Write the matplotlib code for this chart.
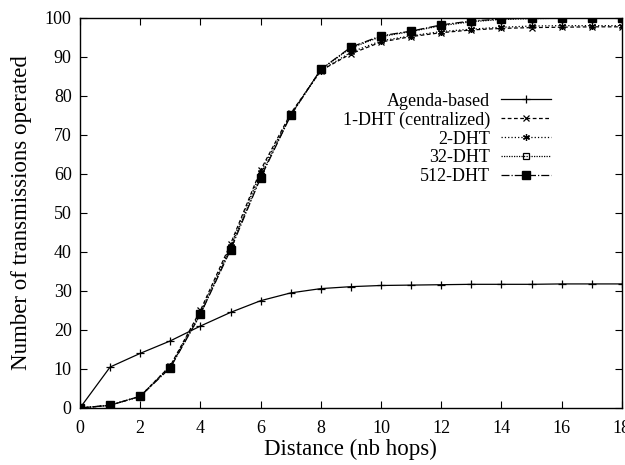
import numpy as np
import matplotlib
matplotlib.use("Agg")
import matplotlib.pyplot as plt

plt.rcParams['font.family'] = ['Liberation Serif', 'DejaVu Serif']

hops = list(range(19))
agenda = [0, 10.5, 14, 17.2, 21, 24.5, 27.5, 29.5, 30.6, 31.1, 31.4, 31.5, 31.6, 31.7, 31.7, 31.7, 31.8, 31.8, 31.8]
dht1 = [0, 0.7, 3, 10.8, 25, 42, 61, 75.5, 86.5, 90.8, 93.8, 95.2, 96.2, 96.9, 97.3, 97.5, 97.6, 97.7, 97.7]
dht2 = [0, 0.7, 3, 10.8, 24.5, 41.5, 60.5, 75.2, 86.5, 91.2, 94.1, 95.4, 96.5, 97.1, 97.6, 97.9, 98.0, 98.0, 98.0]
dht32 = [0, 0.7, 3, 10.5, 24, 41, 59.5, 75, 86.8, 92.3, 95.2, 96.5, 98, 99, 99.6, 99.8, 99.9, 100, 100]
dht512 = [0, 0.7, 3, 10.3, 24, 40.5, 59, 75, 86.8, 92.5, 95.4, 96.6, 98.2, 99.2, 99.7, 100, 100, 100, 100]

fig = plt.figure(figsize=(6.25, 4.65), dpi=100)
ax = fig.add_axes([0.128, 0.1226, 0.867, 0.839])

ax.plot(hops, agenda, '-', color='k', lw=0.9, marker='+', ms=6, mew=0.9, label='Agenda-based')
ax.plot(hops, dht1, '--', color='k', lw=0.9, marker='x', ms=4, mew=0.9, dashes=(3, 2), label='1-DHT (centralized)')
ax.plot(hops, dht2, ':', color='k', lw=0.9, marker=(6, 2, 0), ms=5, mew=0.9, label='2-DHT')
ax.plot(hops, dht32, ':', color='k', lw=0.9, marker='s', ms=5, mfc='none', mew=0.9, dashes=(1, 1), label='32-DHT')
ax.plot(hops, dht512, '-.', color='k', lw=0.9, marker='s', ms=6, label='512-DHT')

ax.set_xlim(0, 18)
ax.set_ylim(0, 100)
ax.set_xticks(range(0, 19, 2))
ax.set_yticks(range(0, 101, 10))
ax.tick_params(direction='in', top=True, right=True, labelsize=13, length=5, pad=6)
ax.tick_params(axis='x', pad=9)
for s in ax.spines.values():
    s.set_linewidth(1.0)

ax.set_xlabel('Distance (nb hops)', fontsize=16.5, labelpad=1)
ax.set_ylabel('Number of transmissions operated', fontsize=16.5, labelpad=9)

ax.legend(loc='upper right', bbox_to_anchor=(0.9, 0.85), frameon=False, markerfirst=False,
          fontsize=13, handlelength=2.8, labelspacing=0.1, handletextpad=0.6)
for t in ax.get_legend().get_texts():
    t.set_ha('right')
leg = ax.get_legend()
leg._legend_box.align = 'right'

fig.savefig('out.png', dpi=100)
